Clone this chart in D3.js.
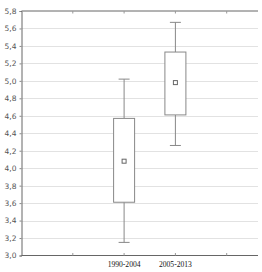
<!DOCTYPE html>
<html><head><meta charset="utf-8">
<script src="https://cdn.jsdelivr.net/npm/d3@7"></script>
<style>body{margin:0;background:#fff}svg{display:block}</style>
</head><body>
<script>
const categories = ["1990-2004", "2005-2013"];
const whiskerLow = [3.15, 4.26];
const q1 = [3.61, 4.61];
const q3 = [4.57, 5.33];
const whiskerHigh = [5.02, 5.67];
const means = [4.08, 4.98];
const yTicks = [3.0,3.2,3.4,3.6,3.8,4.0,4.2,4.4,4.6,4.8,5.0,5.2,5.4,5.6,5.8];

(function(){
const W = 262, H = 272;
const mLeft = 21.5, mRight = 258, mTop = 11, mBottom = 255.5;
const svg = d3.select("body").append("svg").attr("width", W).attr("height", H);

const y = d3.scaleLinear().domain([3.0, 5.8]).range([mBottom, mTop]);
const x = d3.scaleLinear().domain([0, 1]).range([mLeft, mLeft + 51.3]);
const catPos = i => x(i + 2);
const tickIdx = [1, 2, 3, 4];

svg.append("g").selectAll("line").data(yTicks.slice(1, -1)).join("line")
  .attr("x1", mLeft).attr("x2", mRight)
  .attr("y1", d => Math.round(y(d)) + 0.5).attr("y2", d => Math.round(y(d)) + 0.5)
  .attr("stroke", "#e2e2e2").attr("stroke-width", 1);

const yAxis = d3.axisLeft(y).tickValues(yTicks).tickSize(2).tickPadding(3)
  .tickFormat(d => d3.format(".1f")(d).replace(".", ","));
const gy = svg.append("g").attr("transform", `translate(${mLeft},0)`).call(yAxis);
gy.select(".domain").attr("stroke", "#666");
gy.selectAll(".tick line").attr("stroke", "#888");
gy.selectAll("text").attr("fill", "#555").style("font-family", "DejaVu Sans, sans-serif").style("font-size", "7.5px");

[mTop, mBottom].forEach(yy => {
  svg.append("line").attr("x1", mLeft).attr("x2", mRight).attr("y1", yy).attr("y2", yy)
    .attr("stroke", "#666").attr("stroke-width", 1);
});
svg.append("g").selectAll("line").data(tickIdx).join("line")
  .attr("x1", d => x(d)).attr("x2", d => x(d)).attr("y1", mBottom).attr("y2", mBottom - 2.5)
  .attr("stroke", "#999");
svg.append("g").selectAll("line").data(tickIdx).join("line")
  .attr("x1", d => x(d)).attr("x2", d => x(d)).attr("y1", mTop).attr("y2", mTop + 2.5)
  .attr("stroke", "#999");

svg.append("g").selectAll("text").data(categories).join("text")
  .attr("x", (d, i) => catPos(i)).attr("y", 267)
  .attr("text-anchor", "middle")
  .style("font-family", "Liberation Serif, serif").style("font-size", "7.6px")
  .attr("fill", "#111").text(d => d);

const g = svg.append("g");
const bw = 21, cw = 11;
categories.forEach((c, i) => {
  const cx = catPos(i);
  const stroke = "#888";
  g.append("line").attr("x1", cx).attr("x2", cx).attr("y1", y(whiskerLow[i])).attr("y2", y(q1[i])).attr("stroke", stroke);
  g.append("line").attr("x1", cx).attr("x2", cx).attr("y1", y(q3[i])).attr("y2", y(whiskerHigh[i])).attr("stroke", stroke);
  g.append("line").attr("x1", cx - cw/2).attr("x2", cx + cw/2).attr("y1", y(whiskerLow[i])).attr("y2", y(whiskerLow[i])).attr("stroke", stroke);
  g.append("line").attr("x1", cx - cw/2).attr("x2", cx + cw/2).attr("y1", y(whiskerHigh[i])).attr("y2", y(whiskerHigh[i])).attr("stroke", stroke);
  g.append("rect").attr("x", cx - bw/2).attr("y", y(q3[i])).attr("width", bw).attr("height", y(q1[i]) - y(q3[i]))
    .attr("fill", "#fff").attr("stroke", stroke);
  g.append("rect").attr("x", cx - 2).attr("y", y(means[i]) - 2).attr("width", 4).attr("height", 4)
    .attr("fill", "#fff").attr("stroke", "#666");
});
})();
</script>
</body></html>
